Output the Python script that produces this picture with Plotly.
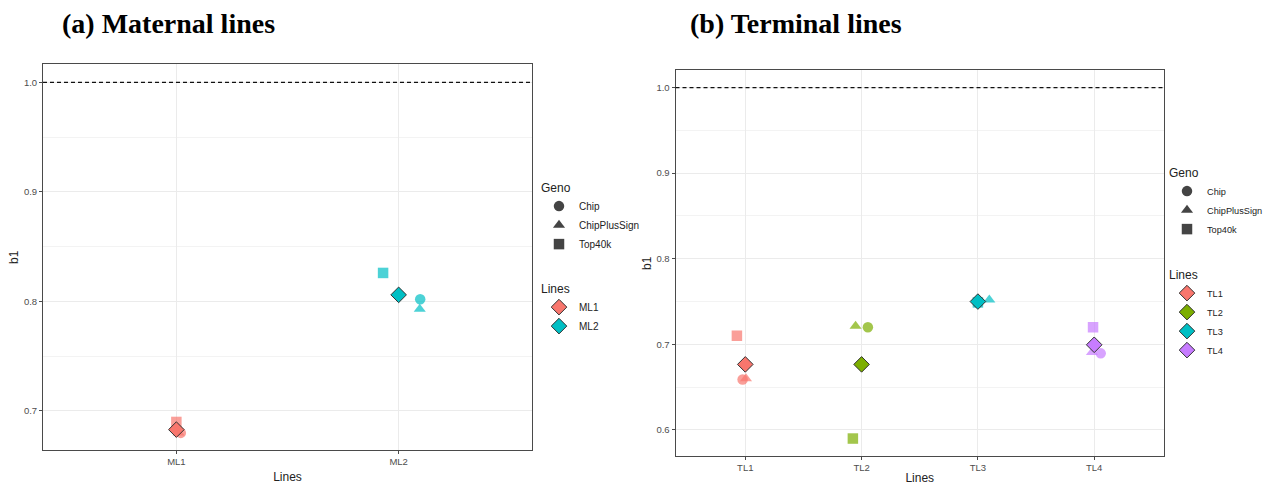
import plotly.graph_objects as go

# ---------------- data ----------------
geno = ["Chip", "ChipPlusSign", "Top40k"]
geno_symbols = ["circle", "triangle-up", "square"]

# (a) Maternal lines
lines_a = ["ML1", "ML2"]
colors_a = ["#F8766D", "#00BFC4"]
b1_a_chip = [0.680, 0.802]
b1_a_cps = [0.680, 0.793]
b1_a_top = [0.690, 0.826]
b1_a_mean = [0.683, 0.806]
jit_a_chip = [0.02, 0.097]
jit_a_cps = [0.01, 0.095]
jit_a_top = [0.0, -0.070]

# (b) Terminal lines
lines_b = ["TL1", "TL2", "TL3", "TL4"]
colors_b = ["#F8766D", "#7CAE00", "#00BFC4", "#C77CFF"]
b1_b_chip = [0.659, 0.720, 0.749, 0.6895]
b1_b_cps = [0.660, 0.7214, 0.752, 0.6906]
b1_b_top = [0.710, 0.590, 0.749, 0.720]
b1_b_mean = [0.6766, 0.6766, 0.750, 0.6995]
jit_b_chip = [-0.023, 0.054, 0.0, 0.056]
jit_b_cps = [0.006, -0.052, 0.098, -0.02]
jit_b_top = [-0.072, -0.075, 0.0, -0.01]

ref_line = 1.0
yticks_a = [0.7, 0.8, 0.9, 1.0]
yminor_a = [0.75, 0.85, 0.95]
yticks_b = [0.6, 0.7, 0.8, 0.9, 1.0]
yminor_b = [0.65, 0.75, 0.85, 0.95]

W, H = 1266, 485
FONT = "Liberation Sans, Arial, sans-serif"
SERIF = "Liberation Serif, Times New Roman, serif"


def xd(a, b):
    return [a / W, b / W]


def yd(top, bot):
    return [1 - bot / H, 1 - top / H]


def hexa(c, a):
    c = c.lstrip("#")
    r, g, b = int(c[0:2], 16), int(c[2:4], 16), int(c[4:6], 16)
    return f"rgba({r},{g},{b},{a})"


fig = go.Figure()


def add_panel(cats, colors, vals, jits, means, xa, ya, leg_geno, leg_lines):
    for gi, (g, sym) in enumerate(zip(geno, geno_symbols)):
        xs = [i + 1 + j for i, j in enumerate(jits[gi])]
        fig.add_trace(go.Scatter(
            x=xs, y=vals[gi], mode="markers", xaxis=xa, yaxis=ya,
            marker=dict(symbol=sym, size=10.5,
                        color=[hexa(c, 0.7) for c in colors], line=dict(width=0)),
            showlegend=False, hoverinfo="skip"))
    for gi, (g, sym) in enumerate(zip(geno, geno_symbols)):
        fig.add_trace(go.Scatter(
            x=[None], y=[None], mode="markers", xaxis=xa, yaxis=ya, name=g,
            marker=dict(symbol=sym, size=10.5, color="#444444", line=dict(width=0)),
            legend=leg_geno, showlegend=True))
    for i, (c, col) in enumerate(zip(cats, colors)):
        fig.add_trace(go.Scatter(
            x=[i + 1], y=[means[i]], mode="markers", xaxis=xa, yaxis=ya, name=c,
            marker=dict(symbol="diamond", size=12, color=col,
                        line=dict(width=1, color="#333333")),
            legend=leg_lines, showlegend=True))


add_panel(lines_a, colors_a, [b1_a_chip, b1_a_cps, b1_a_top],
          [jit_a_chip, jit_a_cps, jit_a_top], b1_a_mean, "x", "y", "legend", "legend2")
add_panel(lines_b, colors_b, [b1_b_chip, b1_b_cps, b1_b_top],
          [jit_b_chip, jit_b_cps, jit_b_top], b1_b_mean, "x2", "y2", "legend3", "legend4")

axis_common = dict(
    showline=True, mirror=True, linecolor="#4a4a4a", linewidth=1,
    ticks="outside", ticklen=3, tickcolor="#4a4a4a",
    tickfont=dict(family=FONT, size=9.5, color="#4d4d4d"),
    showgrid=True, gridcolor="#ebebeb", gridwidth=1, zeroline=False,
    automargin=False,
)

fig.update_layout(
    width=W, height=H, margin=dict(l=0, r=0, t=0, b=0, autoexpand=False),
    paper_bgcolor="white", plot_bgcolor="white",
    font=dict(family=FONT, color="#222222"),
    xaxis=dict(domain=xd(43, 532), range=[0.4, len(lines_a) + 0.6],
               tickvals=list(range(1, len(lines_a) + 1)), ticktext=lines_a,
               title=dict(text="Lines", font=dict(size=12, color="#222222"), standoff=6),
               **axis_common),
    yaxis=dict(domain=yd(64, 450), range=[0.6644, 1.0167],
               tickvals=yticks_a, tickformat=".1f",
               minor=dict(tickvals=yminor_a, showgrid=True, gridcolor="#f3f3f3", ticks=""),
               **axis_common),
    xaxis2=dict(domain=xd(675.5, 1164), range=[0.4, len(lines_b) + 0.6],
                tickvals=list(range(1, len(lines_b) + 1)), ticktext=lines_b,
                anchor="y2",
                title=dict(text="Lines", font=dict(size=12, color="#222222"), standoff=6),
                **axis_common),
    yaxis2=dict(domain=yd(70, 456), range=[0.5696, 1.0205], anchor="x2",
                tickvals=yticks_b, tickformat=".1f",
                minor=dict(tickvals=yminor_b, showgrid=True, gridcolor="#f3f3f3", ticks=""),
                **axis_common),
    shapes=[
        dict(type="line", xref="x domain", yref="y", x0=0, x1=1, y0=ref_line, y1=ref_line,
             line=dict(color="#111111", width=1.2, dash="4px,3px")),
        dict(type="line", xref="x2 domain", yref="y2", x0=0, x1=1, y0=ref_line, y1=ref_line,
             line=dict(color="#111111", width=1.2, dash="4px,3px")),
    ],
    annotations=[
        dict(text="<b>(a) Maternal lines</b>", xref="paper", yref="paper",
             x=60 / W, y=1 - 23 / H, xanchor="left", yanchor="middle", showarrow=False,
             font=dict(family=SERIF, size=28, color="black")),
        dict(text="<b>(b) Terminal lines</b>", xref="paper", yref="paper",
             x=688 / W, y=1 - 23 / H, xanchor="left", yanchor="middle", showarrow=False,
             font=dict(family=SERIF, size=28, color="black")),
        dict(text="b1", xref="paper", yref="paper", x=14 / W, y=1 - 257 / H,
             xanchor="center", yanchor="middle", textangle=-90, showarrow=False,
             font=dict(family=FONT, size=12, color="#222222")),
        dict(text="b1", xref="paper", yref="paper", x=647 / W, y=1 - 263 / H,
             xanchor="center", yanchor="middle", textangle=-90, showarrow=False,
             font=dict(family=FONT, size=12, color="#222222")),
    ],
)

leg_common = dict(xanchor="left", yanchor="top", bgcolor="rgba(0,0,0,0)",
                  itemwidth=30, tracegroupgap=0)
leg_font_a = dict(family=FONT, size=10, color="#222222")
leg_font_b = dict(family=FONT, size=9.2, color="#222222")
fig.update_layout(
    legend=dict(x=539 / W, y=1 - 176 / H, font=leg_font_a,
                title=dict(text="Geno", font=dict(size=12)), **leg_common),
    legend2=dict(x=539 / W, y=1 - 277 / H, font=leg_font_a,
                 title=dict(text="Lines", font=dict(size=12)), **leg_common),
    legend3=dict(x=1167 / W, y=1 - 161 / H, font=leg_font_b,
                 title=dict(text="Geno", font=dict(size=12)), **leg_common),
    legend4=dict(x=1167 / W, y=1 - 263 / H, font=leg_font_b,
                 title=dict(text="Lines", font=dict(size=12)), **leg_common),
)

fig.write_html("out.html")
